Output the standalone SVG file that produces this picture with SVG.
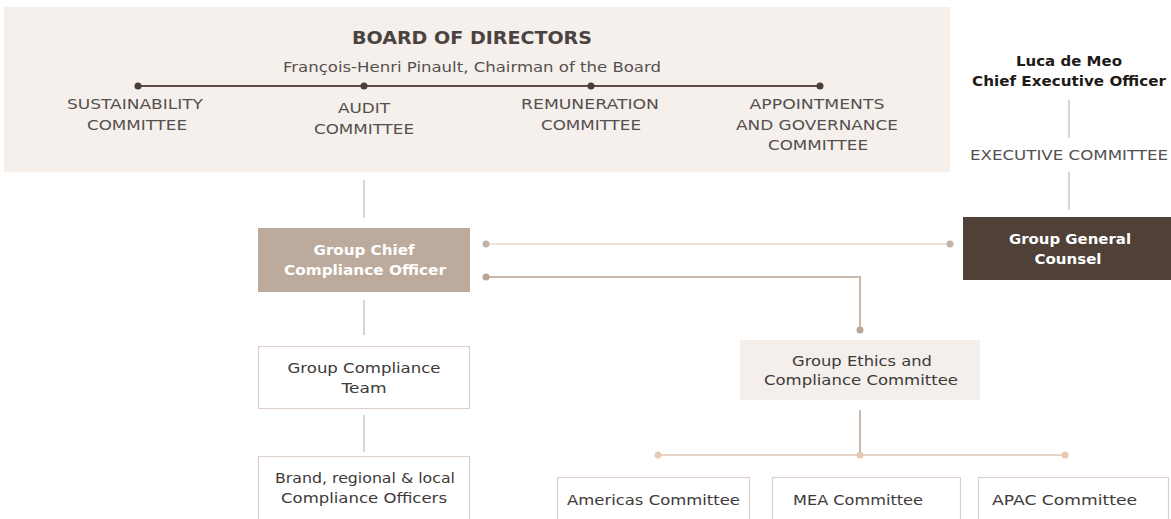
<svg xmlns="http://www.w3.org/2000/svg" width="1171" height="519" viewBox="0 0 1171 519">
  <defs>
    <style>
      text { font-family: "DejaVu Sans", "Open Sans", sans-serif; text-anchor: middle; }
      .cap { font-size: 14px; fill: #555050; }
      .title { font-size: 17.5px; font-weight: 700; fill: #4a4340; }
      .sub { font-size: 14px; fill: #555050; }
      .ceo { font-size: 14px; font-weight: 700; fill: #1e1a18; }
      .wt { font-size: 14px; font-weight: 700; fill: #ffffff; }
      .lbl { font-size: 14px; fill: #3e3a3a; }
      .box { fill: #ffffff; stroke: #dcd0c8; stroke-width: 1.2; }
      .thin { stroke: #d8d4d2; stroke-width: 2; fill: none; }
      .dark { stroke: #5a4c44; stroke-width: 2; fill: none; }
      .lightline { stroke: #ece3dd; stroke-width: 2; fill: none; }
      .midline { stroke: #c9b9ad; stroke-width: 2; fill: none; }
      .peach { stroke: #ead6c9; stroke-width: 2; fill: none; }
    </style>
  </defs>

  <!-- Board of directors panel -->
  <g id="board">
    <rect x="4" y="7" width="946" height="165" fill="#f5f0eb"/>
    <text class="title" x="472" y="44" textLength="240" lengthAdjust="spacingAndGlyphs">BOARD OF DIRECTORS</text>
    <text class="sub" x="472" y="72" textLength="378" lengthAdjust="spacingAndGlyphs">François-Henri Pinault, Chairman of the Board</text>
  </g>

  <g id="sustainability">
    <text class="cap" x="135" y="109" textLength="136" lengthAdjust="spacingAndGlyphs">SUSTAINABILITY</text>
    <text class="cap" x="137" y="130" textLength="100" lengthAdjust="spacingAndGlyphs">COMMITTEE</text>
  </g>
  <g id="audit">
    <text class="cap" x="364" y="113" textLength="52" lengthAdjust="spacingAndGlyphs">AUDIT</text>
    <text class="cap" x="364" y="134" textLength="100" lengthAdjust="spacingAndGlyphs">COMMITTEE</text>
  </g>
  <g id="remuneration">
    <text class="cap" x="590" y="109" textLength="138" lengthAdjust="spacingAndGlyphs">REMUNERATION</text>
    <text class="cap" x="591" y="130" textLength="100" lengthAdjust="spacingAndGlyphs">COMMITTEE</text>
  </g>
  <g id="appointments">
    <text class="cap" x="817" y="109" textLength="135" lengthAdjust="spacingAndGlyphs">APPOINTMENTS</text>
    <text class="cap" x="817" y="130" textLength="162" lengthAdjust="spacingAndGlyphs">AND GOVERNANCE</text>
    <text class="cap" x="818" y="150" textLength="100" lengthAdjust="spacingAndGlyphs">COMMITTEE</text>
  </g>

  <g id="ceo">
    <text class="ceo" x="1069" y="66" textLength="106" lengthAdjust="spacingAndGlyphs">Luca de Meo</text>
    <text class="ceo" x="1069" y="86" textLength="194" lengthAdjust="spacingAndGlyphs">Chief Executive Officer</text>
  </g>
  <g id="executive-committee">
    <text class="cap" x="1069" y="160" textLength="198" lengthAdjust="spacingAndGlyphs">EXECUTIVE COMMITTEE</text>
  </g>

  <g id="general-counsel">
    <rect x="963" y="217" width="208" height="63" fill="#4f4038"/>
    <text class="wt" x="1070" y="244" textLength="122" lengthAdjust="spacingAndGlyphs">Group General</text>
    <text class="wt" x="1068" y="264" textLength="67" lengthAdjust="spacingAndGlyphs">Counsel</text>
  </g>

  <g id="chief-compliance">
    <rect x="258" y="228" width="212" height="64" fill="#bcab9d"/>
    <text class="wt" x="364" y="255" textLength="101" lengthAdjust="spacingAndGlyphs">Group Chief</text>
    <text class="wt" x="365" y="275" textLength="162" lengthAdjust="spacingAndGlyphs">Compliance Officer</text>
  </g>

  <g id="compliance-team">
    <rect class="box" x="258.5" y="346.5" width="211" height="62"/>
    <text class="lbl" x="364" y="373" textLength="153" lengthAdjust="spacingAndGlyphs">Group Compliance</text>
    <text class="lbl" x="364" y="393" textLength="45" lengthAdjust="spacingAndGlyphs">Team</text>
  </g>

  <g id="local-officers">
    <rect class="box" x="258.5" y="456.5" width="211" height="70"/>
    <text class="lbl" x="365" y="483" textLength="180" lengthAdjust="spacingAndGlyphs">Brand, regional &amp; local</text>
    <text class="lbl" x="364" y="503" textLength="166" lengthAdjust="spacingAndGlyphs">Compliance Officers</text>
  </g>

  <g id="ethics-committee">
    <rect x="740" y="340" width="240" height="60" fill="#f4efea"/>
    <text class="lbl" x="862" y="366" textLength="140" lengthAdjust="spacingAndGlyphs">Group Ethics and</text>
    <text class="lbl" x="861" y="385" textLength="194" lengthAdjust="spacingAndGlyphs">Compliance Committee</text>
  </g>

  <g id="americas">
    <rect class="box" x="557.5" y="477.5" width="192" height="50"/>
    <text class="lbl" x="653.5" y="505" textLength="173" lengthAdjust="spacingAndGlyphs">Americas Committee</text>
  </g>
  <g id="mea">
    <rect class="box" x="772.5" y="477.5" width="188" height="50"/>
    <text class="lbl" x="858" y="505" textLength="130" lengthAdjust="spacingAndGlyphs">MEA Committee</text>
  </g>
  <g id="apac">
    <rect class="box" x="978.5" y="477.5" width="190" height="50"/>
    <text class="lbl" x="1064.5" y="505" textLength="145" lengthAdjust="spacingAndGlyphs">APAC Committee</text>
  </g>

  <g id="connectors">
    <!-- committee line -->
    <line class="dark" x1="138" y1="86" x2="820" y2="86"/>
    <g fill="#4a3e38">
      <circle cx="138" cy="86" r="3.5"/>
      <circle cx="364" cy="86" r="3.5"/>
      <circle cx="591" cy="86" r="3.5"/>
      <circle cx="820" cy="86" r="3.5"/>
    </g>
    <!-- CEO chain -->
    <line class="thin" x1="1069" y1="100" x2="1069" y2="138"/>
    <line class="thin" x1="1069" y1="172" x2="1069" y2="210"/>
    <!-- board to CCO -->
    <line class="thin" x1="364" y1="180" x2="364" y2="218"/>
    <!-- CCO to general counsel -->
    <line class="lightline" x1="486" y1="244" x2="950" y2="244"/>
    <circle cx="486" cy="244" r="3.5" fill="#c4b4a8"/>
    <circle cx="950" cy="244" r="3.5" fill="#c4b4a8"/>
    <!-- CCO to ethics committee -->
    <polyline class="midline" points="486,277 860,277 860,330"/>
    <circle cx="486" cy="277" r="3.5" fill="#b8a596"/>
    <circle cx="860" cy="330" r="3.5" fill="#b8a596"/>
    <!-- compliance chain -->
    <line class="thin" x1="364" y1="300" x2="364" y2="335"/>
    <line class="thin" x1="364" y1="415" x2="364" y2="452"/>
    <!-- ethics to regions -->
    <line class="midline" x1="860" y1="410" x2="860" y2="455"/>
    <line class="peach" x1="658" y1="455" x2="1065" y2="455"/>
    <g fill="#e4c9b8">
      <circle cx="658" cy="455" r="3.5"/>
      <circle cx="860" cy="455" r="3.5"/>
      <circle cx="1065" cy="455" r="3.5"/>
    </g>
  </g>
</svg>
